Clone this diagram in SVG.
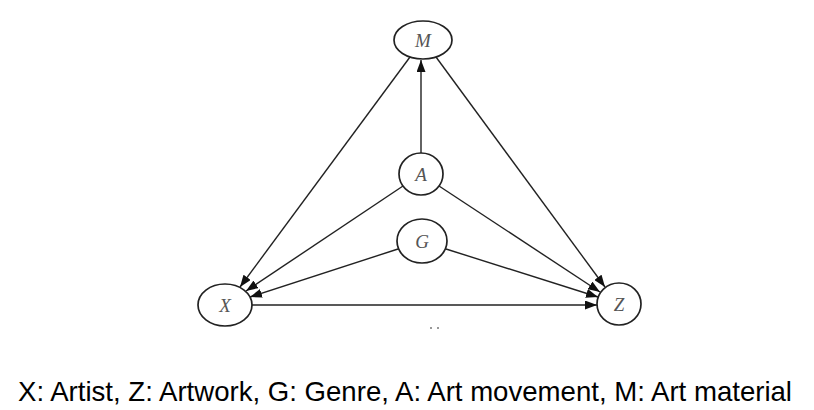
<svg xmlns="http://www.w3.org/2000/svg" width="814" height="410" viewBox="0 0 814 410">
<style>
.node ellipse{fill:#fff;stroke:#222;stroke-width:1.7}
.node text{font-family:"Liberation Serif","DejaVu Serif",serif;font-style:italic;font-size:19px;fill:#555;text-anchor:middle}
.edge{stroke:#222;stroke-width:1.4;fill:none;marker-end:url(#ah)}
.cap{font-family:"Liberation Sans",Arial,sans-serif;font-size:28px;fill:#000}
</style>
<defs>
<marker id="ah" markerUnits="userSpaceOnUse" markerWidth="13" markerHeight="9" refX="12" refY="4.5" orient="auto">
<path d="M0,0 L12,4.5 L0,9 z" fill="#111"/>
</marker>
</defs>
<rect width="814" height="410" fill="#fff"/>
<g id="edges">
<line class="edge" x1="410" y1="57" x2="240" y2="287"/>
<line class="edge" x1="436" y1="57" x2="605" y2="287"/>
<line class="edge" x1="421" y1="153" x2="421" y2="60"/>
<line class="edge" x1="403" y1="186" x2="246" y2="291"/>
<line class="edge" x1="439" y1="186" x2="600" y2="292"/>
<line class="edge" x1="398" y1="249" x2="250" y2="297"/>
<line class="edge" x1="446" y1="249" x2="598" y2="297"/>
<line class="edge" x1="252" y1="305" x2="597" y2="305"/>
</g>
<g id="M" class="node"><ellipse cx="423" cy="40" rx="29" ry="19"/><text x="423" y="47">M</text></g>
<g id="A" class="node"><ellipse cx="421" cy="174" rx="22" ry="21"/><text x="421" y="181">A</text></g>
<g id="G" class="node"><ellipse cx="422" cy="241" rx="25" ry="22"/><text x="422" y="248">G</text></g>
<g id="X" class="node"><ellipse cx="225" cy="305" rx="27" ry="21"/><text x="225" y="312">X</text></g>
<g id="Z" class="node"><ellipse cx="619" cy="304" rx="22" ry="21"/><text x="619" y="311">Z</text></g>
<g id="marks" fill="#777"><circle cx="431" cy="328" r="1"/><circle cx="438" cy="328" r="1"/></g>
<text class="cap" x="18" y="401" textLength="774" lengthAdjust="spacingAndGlyphs">X: Artist, Z: Artwork, G: Genre, A: Art movement, M: Art material</text>
</svg>
